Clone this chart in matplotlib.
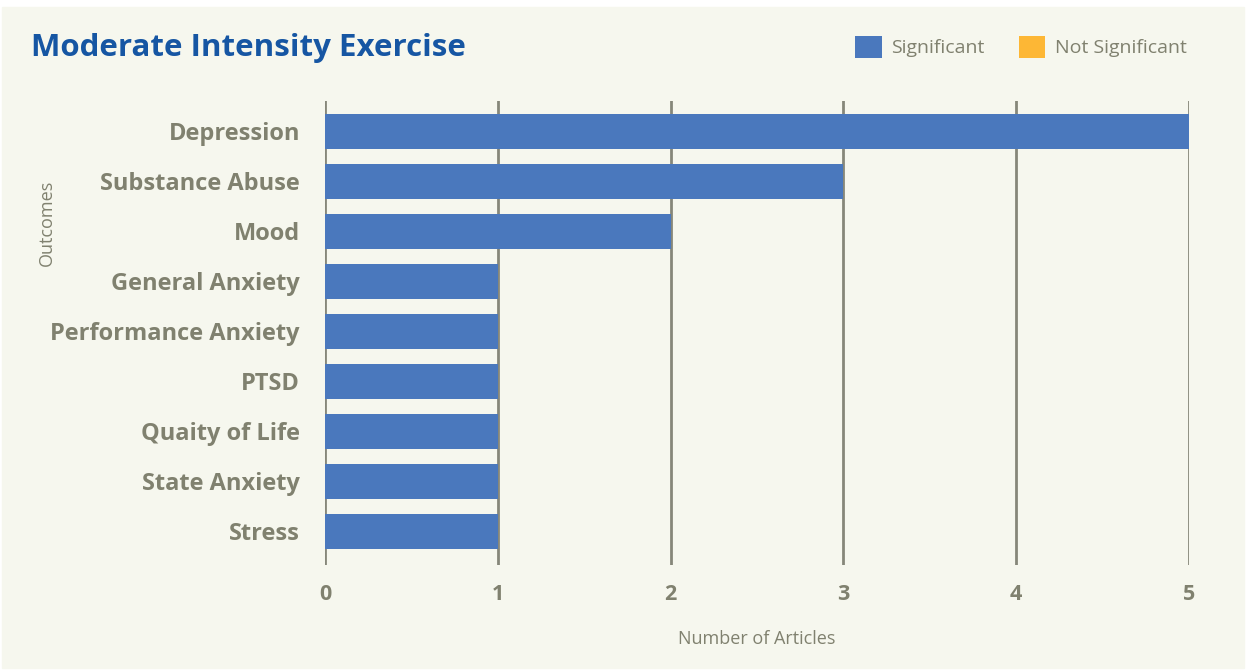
import matplotlib.pyplot as plt
from matplotlib.patches import Patch

outcomes = ['Depression', 'Substance Abuse', 'Mood', 'General Anxiety',
            'Performance Anxiety', 'PTSD', 'Quaity of Life', 'State Anxiety', 'Stress']
significant = [5, 3, 2, 1, 1, 1, 1, 1, 1]
not_significant = [0, 0, 0, 0, 0, 0, 0, 0, 0]
x_ticks = [0, 1, 2, 3, 4, 5]

bg = '#F6F7EE'
gray = '#80816F'
blue = '#4A78BD'
orange = '#FDB735'

plt.rcParams['font.family'] = ['Open Sans', 'DejaVu Sans']

fig = plt.figure(figsize=(12.47, 6.70), dpi=100, facecolor='white')
# cream panel with thin white border
fig.patches.append(plt.Rectangle((2 / 1247, 2 / 670), 1 - 5 / 1247, 1 - 9 / 670,
                                 transform=fig.transFigure, color=bg, zorder=-10))

ax = fig.add_axes([325 / 1247, 1 - 565 / 670, (1189 - 325) / 1247, (565 - 101) / 670])
ax.set_facecolor('none')

ypos = list(range(len(outcomes)))
ax.barh(ypos, significant, height=0.7, color=blue, zorder=3)
ax.barh(ypos, not_significant, left=significant, height=0.7, color=orange, zorder=3)

ax.set_ylim(len(outcomes) - 0.32, -0.6)
ax.set_xlim(0, 5)
ax.set_xticks(x_ticks)
ax.set_xticklabels([str(t) for t in x_ticks], fontsize=15.5, fontweight='bold', color=gray)
ax.set_yticks(ypos)
ax.set_yticklabels(outcomes, fontsize=17, fontweight='bold', color=gray)
ax.tick_params(axis='both', length=0)
ax.tick_params(axis='x', pad=14)
ax.tick_params(axis='y', pad=18)

for t in x_ticks:
    ax.axvline(t, color='#86877A', lw=2, zorder=1)
for s in ax.spines.values():
    s.set_visible(False)

ax.set_xlabel('Number of Articles', fontsize=13, color=gray, labelpad=18)
fig.text(47 / 1247, 1 - 223 / 670, 'Outcomes', rotation=90, fontsize=13,
         color=gray, ha='center', va='center')

fig.text(31 / 1247, 1 - 48 / 670, 'Moderate Intensity Exercise', fontsize=22.5,
         fontweight='bold', color='#1656A3', ha='left', va='center')

handles = [Patch(facecolor=blue, label='Significant'),
           Patch(facecolor=orange, label='Not Significant')]
fig.legend(handles=handles, loc='center right', bbox_to_anchor=(1204 / 1247, 1 - 47 / 670),
           ncol=2, frameon=False, fontsize=14, labelcolor=gray,
           handlelength=1.35, handleheight=1.35, handletextpad=0.5, columnspacing=1.75)

fig.savefig('out.png', dpi=100, facecolor='white')
